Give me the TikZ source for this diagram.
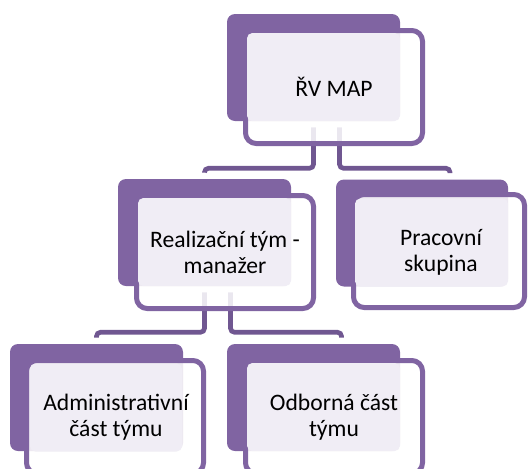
\documentclass[tikz,border=0pt]{standalone}
\usepackage{fontspec}
\setmainfont{Carlito}
\usetikzlibrary{positioning}
\definecolor{mappurple}{RGB}{128,100,162}
\definecolor{mapline}{RGB}{112,87,145}
\definecolor{maplight}{RGB}{240,237,245}

\begin{document}
\begin{tikzpicture}[x=0.75pt, y=-0.75pt,
    backbox/.style={fill=mappurple, rounded corners=6pt, inner sep=0pt, minimum width=129.75pt, minimum height=80.25pt},
    framebox/.style={draw=mappurple, line width=3.75pt, fill=white, fill opacity=0.86, draw opacity=1, rounded corners=8pt, inner sep=0pt, minimum width=132.75pt, minimum height=84.75pt},
    lightbox/.style={fill=maplight, rounded corners=4pt, inner sep=0pt, minimum width=114.75pt, minimum height=66pt},
    txt/.style={align=center, font=\fontsize{17.7}{19.5}\selectfont, text=black},
    conn/.style={draw=mapline, line width=3.5pt, rounded corners=3pt}]
    \useasboundingbox (0,0) rectangle (528,468);
    \clip (0,0) rectangle (528,468);
    % back boxes
    \node[backbox] (topB) at (313.5,67.5) {};
    \node[backbox] (realB) at (204.5,232.5) {};
    \node[backbox, minimum width=129pt] (pracB) at (422,233) {};
    \node[backbox] (adminB) at (96.5,397.5) {};
    \node[backbox] (odbB) at (313.5,397.5) {};
    % connectors
    \draw[conn] ([yshift=-4.5pt]topB.south) -- ++(0,41) -| ([yshift=4.5pt]realB.north);
    \draw[conn] ([xshift=19.5pt,yshift=-4.5pt]topB.south) -- ++(0,41) -| ([xshift=21pt,yshift=4.5pt]pracB.north);
    \draw[conn] ([yshift=-4.5pt]realB.south) -- ++(0,40) -| ([yshift=4.5pt]adminB.north);
    \draw[conn] ([xshift=19.5pt,yshift=-4.5pt]realB.south) -- ++(0,40) -| ([xshift=21pt,yshift=4.5pt]odbB.north);
    % frames
    \node[framebox] (top) at (334,87) {};
    \node[framebox] (real) at (225,252) {};
    \node[framebox, minimum width=128.25pt] (prac) at (439,251) {};
    \node[framebox] (admin) at (115,417) {};
    \node[framebox] (odb) at (334,417) {};
    % text panels
    \node[lightbox] (topL) at (323.5,77) {};
    \node[lightbox] (realL) at (214.5,242) {};
    \node[lightbox] (pracL) at (431.5,242.5) {};
    \node[lightbox, minimum width=114pt] (adminL) at (106,407.5) {};
    \node[lightbox] (odbL) at (323.5,407) {};
    % labels
    \node[txt] (topT) at (top) {ŘV MAP};
    \node[txt] (realT) at (real) {Realizační tým -\\manažer};
    \node[txt] (pracT) at (441,252) {Pracovní\\skupina};
    \node[txt] (adminT) at (116,417) {Administrativní\\část týmu};
    \node[txt] (odbT) at (odb) {Odborná část\\týmu};
\end{tikzpicture}
\end{document}
